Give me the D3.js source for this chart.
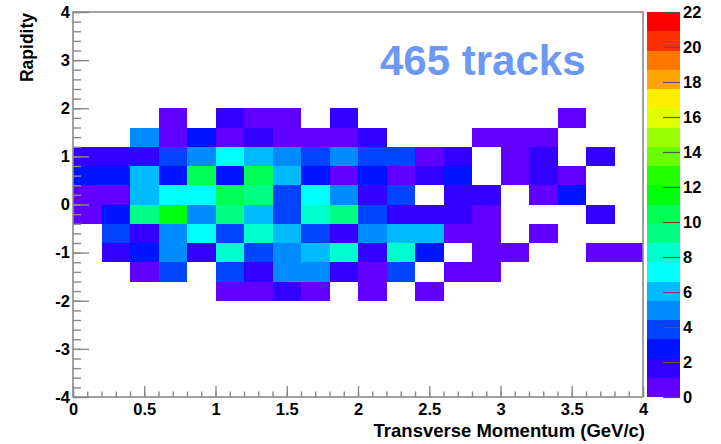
<!DOCTYPE html>
<html>
<head>
<meta charset="utf-8">
<script src="https://cdn.jsdelivr.net/npm/d3@7"></script>
<style>
  html, body { margin: 0; padding: 0; background: #fff; }
  svg { display: block; }
  text { font-family: "Liberation Sans", Arial, Helvetica, sans-serif; font-weight: bold; }
</style>
</head>
<body>
<div id="chart"></div>
<script>
// ---- Data ----
const title = "465 tracks";
const xAxisTitle = "Transverse Momentum (GeV/c)";
const yAxisTitle = "Rapidity";

// lower edges of transverse-momentum bins (GeV/c), bin width 0.2
const ptBinStarts = [0.0,0.2,0.4,0.6,0.8,1.0,1.2,1.4,1.6,1.8,2.0,2.2,2.4,2.6,2.8,3.0,3.2,3.4,3.6,3.8];
const ptBinWidth = 0.2;
// lower edges of rapidity bins, bin width 0.4
const rapidityBinStarts = [1.6, 1.2, 0.8, 0.4, 0.0, -0.4, -0.8, -1.2, -1.6, -2.0];
const rapidityBinWidth = 0.4;

// counts per rapidity row (one value per pt bin)
const countsY1p6  = [0,0,0,1,0,2,1,1,0,2,0,0,0,0,0,0,0,1,0,0];
const countsY1p2  = [0,0,5,1,3,1,2,1,1,1,2,0,0,0,1,1,1,0,0,0];
const countsY0p8  = [2,2,2,4,5,7,6,5,4,5,4,4,1,2,0,1,2,0,2,0];
const countsY0p4  = [3,3,6,3,10,3,10,6,3,1,3,1,2,3,0,1,2,1,0,0];
const countsY0p0  = [1,1,6,7,7,10,9,4,7,5,2,4,0,2,2,0,1,3,0,0];
const countsYm0p4 = [1,3,9,12,5,9,6,4,8,9,4,2,2,2,1,0,0,0,2,0];
const countsYm0p8 = [0,4,2,5,7,4,8,6,4,2,5,6,6,1,1,0,1,0,0,0];
const countsYm1p2 = [0,2,3,5,2,8,4,5,6,8,2,8,3,0,1,1,0,0,1,1];
const countsYm1p6 = [0,0,1,4,0,4,2,5,5,2,1,4,0,1,1,0,0,0,0,0];
const countsYm2p0 = [0,0,0,0,0,1,1,2,1,0,1,0,1,0,0,0,0,0,0,0];

const countRows = [countsY1p6, countsY1p2, countsY0p8, countsY0p4, countsY0p0,
                   countsYm0p4, countsYm0p8, countsYm1p2, countsYm1p6, countsYm2p0];

// axis ticks
const xTickValues = [0, 0.5, 1, 1.5, 2, 2.5, 3, 3.5, 4];
const xTickLabels = ["0", "0.5", "1", "1.5", "2", "2.5", "3", "3.5", "4"];
const yTickValues = [-4, -3, -2, -1, 0, 1, 2, 3, 4];
const yTickLabels = ["-4", "-3", "-2", "-1", "0", "1", "2", "3", "4"];
const zTickValues = [0, 2, 4, 6, 8, 10, 12, 14, 16, 18, 20, 22];
const zTickLabels = ["0", "2", "4", "6", "8", "10", "12", "14", "16", "18", "20", "22"];
const zMax = 22;

// 20-level palette (violet -> red)
const palette = ["#6200ff","#3300ff","#0014ff","#0044ff","#008bff","#00bbff","#00fffc","#00ffcc",
                 "#00ff85","#00ff55","#00ff0e","#22ff00","#69ff00","#99ff00","#e0ff00","#ffee00",
                 "#ffa700","#ff7700","#ff3000","#ff0000"];

// ---- Drawing ----
const W = 721, H = 444;
const svg = d3.select("#chart").append("svg").attr("width", W).attr("height", H);
svg.append("rect").attr("width", W).attr("height", H).attr("fill", "#fff");

const x = d3.scaleLinear().domain([0, 4]).range([73, 643]);
const y = d3.scaleLinear().domain([-4, 4]).range([397, 12]);
const z = d3.scaleLinear().domain([0, zMax]).range([397, 12]);
const nLevels = palette.length;
const levelOf = v => Math.min(nLevels - 1, Math.floor(v / (zMax / nLevels) + 1e-9));

// cells
const cells = [];
countRows.forEach((row, r) => {
  row.forEach((v, c) => {
    if (v > 0) cells.push({ pt: ptBinStarts[c], rap: rapidityBinStarts[r], v });
  });
});
svg.append("g").selectAll("rect").data(cells).join("rect")
  .attr("x", d => x(d.pt))
  .attr("y", d => y(d.rap + rapidityBinWidth))
  .attr("width", d => x(d.pt + ptBinWidth) - x(d.pt))
  .attr("height", d => y(d.rap) - y(d.rap + rapidityBinWidth))
  .attr("fill", d => palette[levelOf(d.v)])
  .attr("shape-rendering", "crispEdges");

// frame
svg.append("rect")
  .attr("x", x(0)).attr("y", y(4))
  .attr("width", x(4) - x(0)).attr("height", y(-4) - y(4))
  .attr("fill", "none").attr("stroke", "#8a8a8a").attr("stroke-width", 1.6);

const axisColor = "#8a8a8a";
function styleAxis(g) {
  g.select(".domain").remove();
  g.selectAll(".tick line").attr("stroke", axisColor).attr("stroke-width", 1.4);
  g.selectAll(".tick text").attr("fill", "#000").style("font-size", "16.5px");
}

// x axis minor
svg.append("g").attr("transform", `translate(0,${y(-4)})`)
  .call(d3.axisBottom(x).tickValues(d3.range(0, 41).map(i => i / 10)).tickSize(-5.5).tickFormat(""))
  .call(styleAxis);
// x axis major
svg.append("g").attr("transform", `translate(0,${y(-4)})`)
  .call(d3.axisBottom(x).tickValues(xTickValues).tickSize(-11).tickPadding(6)
        .tickFormat((d, i) => xTickLabels[i]))
  .call(styleAxis);

// y axis minor
svg.append("g").attr("transform", `translate(${x(0)},0)`)
  .call(d3.axisLeft(y).tickValues(d3.range(-20, 21).map(i => i / 5)).tickSize(-8).tickFormat(""))
  .call(styleAxis);
// y axis major
svg.append("g").attr("transform", `translate(${x(0)},0)`)
  .call(d3.axisLeft(y).tickValues(yTickValues).tickSize(-16).tickPadding(3)
        .tickFormat((d, i) => yTickLabels[i]))
  .call(styleAxis);

// axis titles
svg.append("text").attr("x", 645).attr("y", 437).attr("text-anchor", "end")
  .style("font-size", "18.5px").attr("fill", "#000").text(xAxisTitle);
svg.append("text").attr("transform", `translate(33,13) rotate(-90)`).attr("text-anchor", "end")
  .style("font-size", "17.5px").attr("fill", "#000").text(yAxisTitle);

// color bar
const barX0 = 647, barX1 = 680;
svg.append("g").selectAll("rect").data(palette).join("rect")
  .attr("x", barX0)
  .attr("y", (c, i) => z((i + 1) * zMax / nLevels))
  .attr("width", barX1 - barX0)
  .attr("height", (c, i) => z(i * zMax / nLevels) - z((i + 1) * zMax / nLevels))
  .attr("fill", c => c)
  .attr("shape-rendering", "crispEdges");
svg.append("g").attr("transform", `translate(${barX1},0)`)
  .call(d3.axisRight(z).tickValues(zTickValues).tickSize(-17).tickPadding(3)
        .tickFormat((d, i) => zTickLabels[i]))
  .call(g => {
    g.select(".domain").remove();
    g.selectAll(".tick line").attr("stroke", "#555").attr("stroke-width", 1.2);
    g.selectAll(".tick text").attr("fill", "#000").style("font-size", "16.5px");
  });

// annotation
svg.append("text").attr("x", 380).attr("y", 75)
  .style("font-size", "42px").attr("fill", "#6a98f4").text(title);
</script>
</body>
</html>
